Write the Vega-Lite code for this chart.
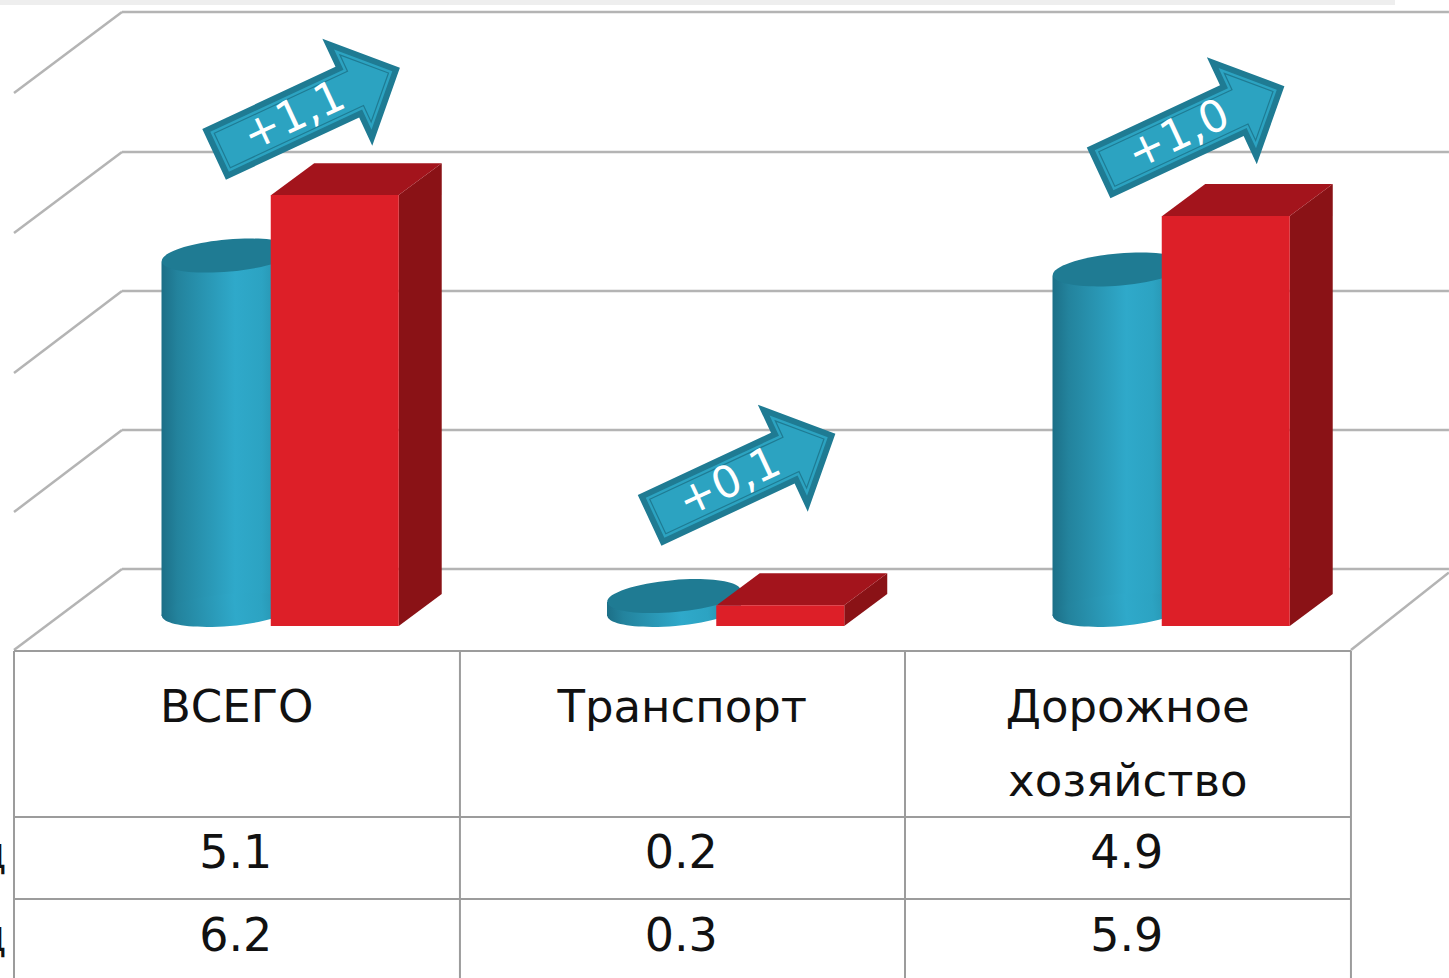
{
"$schema":"https://vega.github.io/schema/vega-lite/v6.json",
"width":1449,"height":978,"padding":0,"autosize":{"type":"none"},"background":"white",
"config":{"view":{"stroke":null}},
"datasets":{
"bars":[
{"category":"ВСЕГО","center":0.5,"series":"first","value":5.1},
{"category":"Транспорт","center":1.5,"series":"first","value":0.2},
{"category":"Дорожное\nхозяйство","center":2.5,"series":"first","value":4.9},
{"category":"ВСЕГО","center":0.5,"series":"second","value":6.2},
{"category":"Транспорт","center":1.5,"series":"second","value":0.3},
{"category":"Дорожное\nхозяйство","center":2.5,"series":"second","value":5.9}],
"wall":[
{"x":0.2424,"x2":3.221,"y":0.82,"y2":0.82},{"x":0.2424,"x2":3.221,"y":2.82,"y2":2.82},{"x":0.2424,"x2":3.221,"y":4.82,"y2":4.82},{"x":0.2424,"x2":3.221,"y":6.82,"y2":6.82},{"x":0.2424,"x2":3.221,"y":8.835,"y2":8.835},
{"x":0,"x2":0.2424,"y":-0.345,"y2":0.82},{"x":0,"x2":0.2424,"y":1.64,"y2":2.82},{"x":0,"x2":0.2424,"y":3.64,"y2":4.82},{"x":0,"x2":0.2424,"y":5.655,"y2":6.82},{"x":0,"x2":0.2424,"y":7.67,"y2":8.835},
{"x":3.001,"x2":3.221,"y":-0.345,"y2":0.77}],
"table":[
{"x":0,"x2":3.001,"y":-0.36,"y2":-0.36},{"x":0,"x2":3.001,"y":-2.748,"y2":-2.748},{"x":0,"x2":3.001,"y":-3.928,"y2":-3.928},
{"x":0,"x2":0,"y":-0.36,"y2":-5.065},{"x":1.001,"x2":1.001,"y":-0.36,"y2":-5.065},{"x":2,"x2":2,"y":-0.36,"y2":-5.065},{"x":3.001,"x2":3.001,"y":-0.36,"y2":-5.065}],
"side":[
{"bar":"a","x":0.8636,"y":6.2,"y2":0},{"bar":"a","x":0.9601,"y":6.66,"y2":0.46},
{"bar":"b","x":1.8636,"y":0.3,"y2":0},{"bar":"b","x":1.9601,"y":0.76,"y2":0.46},
{"bar":"c","x":2.8636,"y":5.9,"y2":0},{"bar":"c","x":2.9601,"y":6.36,"y2":0.46}],
"top":[
{"bar":"a","x":0.5774,"y":6.2,"y2":6.2},{"bar":"a","x":0.6739,"y":6.66,"y2":6.2},{"bar":"a","x":0.8636,"y":6.66,"y2":6.2},{"bar":"a","x":0.9601,"y":6.66,"y2":6.66},
{"bar":"b","x":1.5774,"y":0.3,"y2":0.3},{"bar":"b","x":1.6739,"y":0.76,"y2":0.3},{"bar":"b","x":1.8636,"y":0.76,"y2":0.3},{"bar":"b","x":1.9601,"y":0.76,"y2":0.76},
{"bar":"c","x":2.5774,"y":5.9,"y2":5.9},{"bar":"c","x":2.6739,"y":6.36,"y2":5.9},{"bar":"c","x":2.8636,"y":6.36,"y2":5.9},{"bar":"c","x":2.9601,"y":6.36,"y2":6.36}],
"arrows":[
{"label":"+1,1","x":0.6577,"y":7.41},{"label":"+0,1","x":1.6352,"y":2.144},{"label":"+1,0","x":2.6431,"y":7.144}],
"rowlabels":[{"label":"д","x":-0.0165,"y":-3.482},{"label":"д","x":-0.0165,"y":-4.676}]
},
"layer":[
{"data":{"values":[{"x":-0.0314,"x2":3.1,"y":8.98,"y2":8.98}]},"mark":{"type":"rule","stroke":"#eeeeee","strokeWidth":6},
 "encoding":{"x":{"field":"x","type":"quantitative","axis":null,"scale":{"domain":[-0.03143,3.2211],"nice":false,"zero":false}},"x2":{"field":"x2"},"y":{"field":"y","type":"quantitative","axis":null,"scale":{"domain":[-5.06475,9.00719],"nice":false,"zero":false}},"y2":{"field":"y2"}}},
{"data":{"name":"wall"},"mark":{"type":"rule","stroke":"#b4b4b4","strokeWidth":2.5},
 "encoding":{"x":{"field":"x","type":"quantitative","axis":null,"scale":{"domain":[-0.03143,3.2211],"nice":false,"zero":false}},"x2":{"field":"x2"},"y":{"field":"y","type":"quantitative","axis":null,"scale":{"domain":[-5.06475,9.00719],"nice":false,"zero":false}},"y2":{"field":"y2"}}},
{"data":{"name":"table"},"mark":{"type":"rule","stroke":"#9c9c9c","strokeWidth":2},
 "encoding":{"x":{"field":"x","type":"quantitative","axis":null,"scale":{"domain":[-0.03143,3.2211],"nice":false,"zero":false}},"x2":{"field":"x2"},"y":{"field":"y","type":"quantitative","axis":null,"scale":{"domain":[-5.06475,9.00719],"nice":false,"zero":false}},"y2":{"field":"y2"}}},
{"data":{"name":"bars"},"transform":[{"filter":"datum.series==='first'"}],
 "mark":{"type":"rect","xOffset":-75.25,"x2Offset":58.75,"yOffset":-10,"y2Offset":-10,"fill":{"x1":0,"y1":0,"x2":1,"y2":0,"gradient":"linear","stops":[{"offset":0,"color":"#1c6f87"},{"offset":0.12,"color":"#23839d"},{"offset":0.55,"color":"#2fa9ca"},{"offset":0.75,"color":"#2ca3c2"},{"offset":1,"color":"#23819a"}]}},
 "encoding":{"x":{"field":"center","type":"quantitative","axis":null,"scale":{"domain":[-0.03143,3.2211],"nice":false,"zero":false}},"x2":{"field":"center"},"y":{"field":"value","type":"quantitative","axis":null,"scale":{"domain":[-5.06475,9.00719],"nice":false,"zero":false}},"y2":{"datum":0}}},
{"data":{"name":"bars"},"transform":[{"filter":"datum.series==='first'"}],
 "mark":{"type":"point","filled":true,"opacity":1,"size":17956,"angle":-5,"xOffset":-8.25,"yOffset":-16,"shape":"M-1,0 A1,0.239 0 1,1 1,0 A1,0.239 0 1,1 -1,0 Z","fill":{"x1":0,"y1":0,"x2":1,"y2":0,"gradient":"linear","stops":[{"offset":0,"color":"#1c6f87"},{"offset":0.12,"color":"#23839d"},{"offset":0.55,"color":"#2fa9ca"},{"offset":0.75,"color":"#2ca3c2"},{"offset":1,"color":"#23819a"}]}},
 "encoding":{"x":{"field":"center","type":"quantitative","axis":null,"scale":{"domain":[-0.03143,3.2211],"nice":false,"zero":false}},"y":{"datum":0,"type":"quantitative","axis":null,"scale":{"domain":[-5.06475,9.00719],"nice":false,"zero":false}}}},
{"data":{"name":"bars"},"transform":[{"filter":"datum.series==='first'"}],
 "mark":{"type":"point","filled":true,"opacity":1,"size":17956,"angle":-5,"xOffset":-8.25,"yOffset":-16,"shape":"M-1,0 A1,0.239 0 1,1 1,0 A1,0.239 0 1,1 -1,0 Z","fill":"#1f7b93"},
 "encoding":{"x":{"field":"center","type":"quantitative","axis":null,"scale":{"domain":[-0.03143,3.2211],"nice":false,"zero":false}},"y":{"field":"value","type":"quantitative","axis":null,"scale":{"domain":[-5.06475,9.00719],"nice":false,"zero":false}}}},
{"data":{"name":"side"},"mark":{"type":"area","fill":"#8a1216","opacity":1},
 "encoding":{"x":{"field":"x","type":"quantitative","axis":null,"scale":{"domain":[-0.03143,3.2211],"nice":false,"zero":false}},"y":{"field":"y","type":"quantitative","stack":false,"axis":null,"scale":{"domain":[-5.06475,9.00719],"nice":false,"zero":false}},"y2":{"field":"y2"},"detail":{"field":"bar"}}},
{"data":{"name":"top"},"mark":{"type":"area","fill":"#a3141c","opacity":1},
 "encoding":{"x":{"field":"x","type":"quantitative","axis":null,"scale":{"domain":[-0.03143,3.2211],"nice":false,"zero":false}},"y":{"field":"y","type":"quantitative","stack":false,"axis":null,"scale":{"domain":[-5.06475,9.00719],"nice":false,"zero":false}},"y2":{"field":"y2"},"detail":{"field":"bar"}}},
{"data":{"name":"bars"},"transform":[{"filter":"datum.series==='second'"}],
 "mark":{"type":"rect","xOffset":34,"x2Offset":162,"fill":"#dd1f28"},
 "encoding":{"x":{"field":"center","type":"quantitative","axis":null,"scale":{"domain":[-0.03143,3.2211],"nice":false,"zero":false}},"x2":{"field":"center"},"y":{"field":"value","type":"quantitative","axis":null,"scale":{"domain":[-5.06475,9.00719],"nice":false,"zero":false}},"y2":{"datum":0}}},
{"data":{"name":"arrows"},"mark":{"type":"point","filled":true,"opacity":1,"size":42025,"angle":-25,"fill":"#1f7b93","shape":"M-1,-0.273 L0.434,-0.273 L0.434,-0.576 L1,0 L0.434,0.576 L0.434,0.273 L-1,0.273 Z"},
 "encoding":{"x":{"field":"x","type":"quantitative","axis":null,"scale":{"domain":[-0.03143,3.2211],"nice":false,"zero":false}},"y":{"field":"y","type":"quantitative","axis":null,"scale":{"domain":[-5.06475,9.00719],"nice":false,"zero":false}}}},
{"data":{"name":"arrows"},"mark":{"type":"point","filled":true,"opacity":1,"size":42025,"angle":-25,"fill":"#2ca3c1","shape":"M-0.941,-0.215 L0.493,-0.215 L0.493,-0.432 L0.918,0 L0.493,0.432 L0.493,0.215 L-0.941,0.215 Z"},
 "encoding":{"x":{"field":"x","type":"quantitative","axis":null,"scale":{"domain":[-0.03143,3.2211],"nice":false,"zero":false}},"y":{"field":"y","type":"quantitative","axis":null,"scale":{"domain":[-5.06475,9.00719],"nice":false,"zero":false}}}},
{"data":{"name":"arrows"},"mark":{"type":"point","filled":true,"opacity":1,"size":42025,"angle":-25,"fill":"#2ca3c1","stroke":"#1f7b93","strokeWidth":1.2,"shape":"M-0.912,-0.185 L0.522,-0.185 L0.522,-0.361 L0.877,0 L0.522,0.361 L0.522,0.185 L-0.912,0.185 Z"},
 "encoding":{"x":{"field":"x","type":"quantitative","axis":null,"scale":{"domain":[-0.03143,3.2211],"nice":false,"zero":false}},"y":{"field":"y","type":"quantitative","axis":null,"scale":{"domain":[-5.06475,9.00719],"nice":false,"zero":false}}}},
{"data":{"name":"arrows"},"mark":{"type":"text","angle":-25,"dx":-14,"align":"center","baseline":"middle","font":"DejaVu Sans","fontSize":44,"fill":"#ffffff"},
 "encoding":{"x":{"field":"x","type":"quantitative","axis":null,"scale":{"domain":[-0.03143,3.2211],"nice":false,"zero":false}},"y":{"field":"y","type":"quantitative","axis":null,"scale":{"domain":[-5.06475,9.00719],"nice":false,"zero":false}},"text":{"field":"label"}}},
{"data":{"name":"bars"},"transform":[{"filter":"datum.series==='first'"}],
 "mark":{"type":"text","align":"center","baseline":"alphabetic","font":"DejaVu Sans","fontSize":45,"lineBreak":"\n","lineHeight":74,"fill":"#111111"},
 "encoding":{"x":{"field":"center","type":"quantitative","axis":null,"scale":{"domain":[-0.03143,3.2211],"nice":false,"zero":false}},"y":{"datum":-1.381,"type":"quantitative","axis":null,"scale":{"domain":[-5.06475,9.00719],"nice":false,"zero":false}},"text":{"field":"category"}}},
{"data":{"name":"bars"},"transform":[{"filter":"datum.series==='first'"}],
 "mark":{"type":"text","align":"center","baseline":"alphabetic","dx":-1,"font":"DejaVu Sans","fontSize":46,"fill":"#111111"},
 "encoding":{"x":{"field":"center","type":"quantitative","axis":null,"scale":{"domain":[-0.03143,3.2211],"nice":false,"zero":false}},"y":{"datum":-3.482,"type":"quantitative","axis":null,"scale":{"domain":[-5.06475,9.00719],"nice":false,"zero":false}},"text":{"field":"value","format":".1f"}}},
{"data":{"name":"bars"},"transform":[{"filter":"datum.series==='second'"}],
 "mark":{"type":"text","align":"center","baseline":"alphabetic","dx":-1,"font":"DejaVu Sans","fontSize":46,"fill":"#111111"},
 "encoding":{"x":{"field":"center","type":"quantitative","axis":null,"scale":{"domain":[-0.03143,3.2211],"nice":false,"zero":false}},"y":{"datum":-4.676,"type":"quantitative","axis":null,"scale":{"domain":[-5.06475,9.00719],"nice":false,"zero":false}},"text":{"field":"value","format":".1f"}}},
{"data":{"name":"rowlabels"},
 "mark":{"type":"text","align":"right","baseline":"alphabetic","font":"DejaVu Sans","fontSize":44,"fill":"#111111"},
 "encoding":{"x":{"field":"x","type":"quantitative","axis":null,"scale":{"domain":[-0.03143,3.2211],"nice":false,"zero":false}},"y":{"field":"y","type":"quantitative","axis":null,"scale":{"domain":[-5.06475,9.00719],"nice":false,"zero":false}},"text":{"field":"label"}}}
]
}
